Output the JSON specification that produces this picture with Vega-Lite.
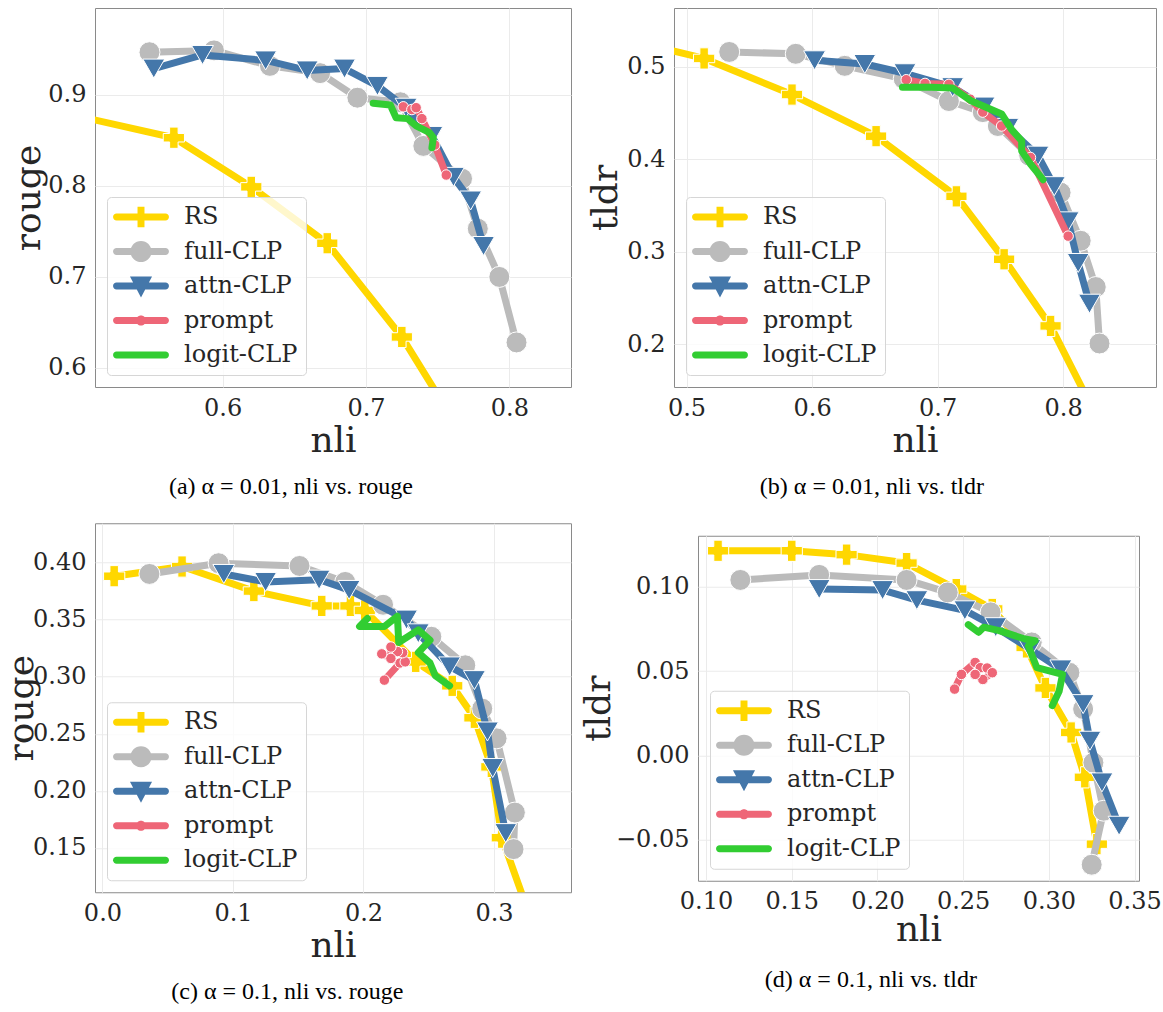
{
"$schema": "https://vega.github.io/schema/vega-lite/v6.json",
"padding": {"left": 3, "top": 7, "right": 0, "bottom": 0},
"background": "white",
"spacing": 22,
"resolve": {"scale": {"color": "independent"}, "legend": {"color": "independent"}},
"config": {
  "font": "DejaVu Serif",
  "view": {"stroke": "#8a8a8a", "strokeWidth": 1},
  "axis": {"domain": false, "ticks": false, "grid": true, "gridColor": "#ebebeb", "gridWidth": 1, "labelFont": "DejaVu Serif", "labelFontSize": 24, "labelColor": "#262626", "labelPadding": 9, "labelFlush": false, "labelOverlap": false, "titleFont": "DejaVu Serif", "titleFontSize": 36, "titleFontWeight": "normal", "titleColor": "#262626"},
  "axisY": {"titleBaseline": "alphabetic", "titlePadding": 6},
  "axisX": {"titlePadding": 3},
  "title": {"orient": "bottom", "font": "Liberation Serif", "fontSize": 24, "fontWeight": "normal", "color": "#000000", "anchor": "middle", "frame": "bounds", "offset": 17},
  "legend": {"orient": "bottom-left", "offset": 12, "title": null, "labelFont": "DejaVu Serif", "labelFontSize": 24, "labelColor": "#262626", "symbolSize": 576, "symbolOffset": 14, "rowPadding": 10.5, "labelOffset": 31, "padding": 8, "fillColor": "rgba(255,255,255,0.8)", "strokeColor": "#d6d6d6", "cornerRadius": 4}
},
"datasets": {
  "a": [
    {"s":"RS","i":0,"nli":0.47,"score":0.887},{"s":"RS","i":1,"nli":0.566,"score":0.853},{"s":"RS","i":2,"nli":0.620,"score":0.799},{"s":"RS","i":3,"nli":0.673,"score":0.737},{"s":"RS","i":4,"nli":0.725,"score":0.634},{"s":"RS","i":5,"nli":0.76,"score":0.545},
    {"s":"full-CLP","i":0,"nli":0.549,"score":0.947},{"s":"full-CLP","i":1,"nli":0.594,"score":0.949},{"s":"full-CLP","i":2,"nli":0.633,"score":0.932},{"s":"full-CLP","i":3,"nli":0.668,"score":0.924},{"s":"full-CLP","i":4,"nli":0.694,"score":0.897},{"s":"full-CLP","i":5,"nli":0.724,"score":0.892},{"s":"full-CLP","i":6,"nli":0.740,"score":0.844},{"s":"full-CLP","i":7,"nli":0.767,"score":0.808},{"s":"full-CLP","i":8,"nli":0.778,"score":0.753},{"s":"full-CLP","i":9,"nli":0.793,"score":0.700},{"s":"full-CLP","i":10,"nli":0.805,"score":0.628},
    {"s":"attn-CLP","i":0,"nli":0.552,"score":0.929},{"s":"attn-CLP","i":1,"nli":0.586,"score":0.944},{"s":"attn-CLP","i":2,"nli":0.630,"score":0.938},{"s":"attn-CLP","i":3,"nli":0.659,"score":0.927},{"s":"attn-CLP","i":4,"nli":0.685,"score":0.929},{"s":"attn-CLP","i":5,"nli":0.708,"score":0.910},{"s":"attn-CLP","i":6,"nli":0.728,"score":0.886},{"s":"attn-CLP","i":7,"nli":0.746,"score":0.855},{"s":"attn-CLP","i":8,"nli":0.761,"score":0.810},{"s":"attn-CLP","i":9,"nli":0.773,"score":0.784},{"s":"attn-CLP","i":10,"nli":0.782,"score":0.734},
    {"s":"prompt","i":0,"nli":0.726,"score":0.887},{"s":"prompt","i":1,"nli":0.732,"score":0.884},{"s":"prompt","i":2,"nli":0.735,"score":0.886},{"s":"prompt","i":3,"nli":0.739,"score":0.874},{"s":"prompt","i":4,"nli":0.748,"score":0.845},{"s":"prompt","i":5,"nli":0.756,"score":0.812},
    {"s":"logit-CLP","i":0,"nli":0.705,"score":0.891},{"s":"logit-CLP","i":1,"nli":0.717,"score":0.889},{"s":"logit-CLP","i":2,"nli":0.721,"score":0.875},{"s":"logit-CLP","i":3,"nli":0.729,"score":0.874},{"s":"logit-CLP","i":4,"nli":0.735,"score":0.866},{"s":"logit-CLP","i":5,"nli":0.744,"score":0.859},{"s":"logit-CLP","i":6,"nli":0.747,"score":0.853},{"s":"logit-CLP","i":7,"nli":0.746,"score":0.842}
  ],
  "b": [
    {"s":"RS","i":0,"nli":0.45,"score":0.530},{"s":"RS","i":1,"nli":0.514,"score":0.509},{"s":"RS","i":2,"nli":0.584,"score":0.470},{"s":"RS","i":3,"nli":0.651,"score":0.425},{"s":"RS","i":4,"nli":0.715,"score":0.360},{"s":"RS","i":5,"nli":0.753,"score":0.292},{"s":"RS","i":6,"nli":0.790,"score":0.220},{"s":"RS","i":7,"nli":0.83,"score":0.113},
    {"s":"full-CLP","i":0,"nli":0.534,"score":0.516},{"s":"full-CLP","i":1,"nli":0.587,"score":0.514},{"s":"full-CLP","i":2,"nli":0.626,"score":0.501},{"s":"full-CLP","i":3,"nli":0.673,"score":0.487},{"s":"full-CLP","i":4,"nli":0.709,"score":0.463},{"s":"full-CLP","i":5,"nli":0.736,"score":0.451},{"s":"full-CLP","i":6,"nli":0.748,"score":0.436},{"s":"full-CLP","i":7,"nli":0.773,"score":0.404},{"s":"full-CLP","i":8,"nli":0.798,"score":0.364},{"s":"full-CLP","i":9,"nli":0.814,"score":0.312},{"s":"full-CLP","i":10,"nli":0.826,"score":0.262},{"s":"full-CLP","i":11,"nli":0.829,"score":0.201},
    {"s":"attn-CLP","i":0,"nli":0.602,"score":0.507},{"s":"attn-CLP","i":1,"nli":0.642,"score":0.503},{"s":"attn-CLP","i":2,"nli":0.674,"score":0.493},{"s":"attn-CLP","i":3,"nli":0.712,"score":0.478},{"s":"attn-CLP","i":4,"nli":0.737,"score":0.457},{"s":"attn-CLP","i":5,"nli":0.756,"score":0.434},{"s":"attn-CLP","i":6,"nli":0.780,"score":0.404},{"s":"attn-CLP","i":7,"nli":0.793,"score":0.371},{"s":"attn-CLP","i":8,"nli":0.804,"score":0.333},{"s":"attn-CLP","i":9,"nli":0.812,"score":0.288},{"s":"attn-CLP","i":10,"nli":0.821,"score":0.244},
    {"s":"prompt","i":0,"nli":0.675,"score":0.486},{"s":"prompt","i":1,"nli":0.690,"score":0.482},{"s":"prompt","i":2,"nli":0.709,"score":0.481},{"s":"prompt","i":3,"nli":0.726,"score":0.465},{"s":"prompt","i":4,"nli":0.736,"score":0.451},{"s":"prompt","i":5,"nli":0.751,"score":0.436},{"s":"prompt","i":6,"nli":0.774,"score":0.402},{"s":"prompt","i":7,"nli":0.804,"score":0.317},
    {"s":"logit-CLP","i":0,"nli":0.672,"score":0.478},{"s":"logit-CLP","i":1,"nli":0.695,"score":0.478},{"s":"logit-CLP","i":2,"nli":0.712,"score":0.477},{"s":"logit-CLP","i":3,"nli":0.727,"score":0.463},{"s":"logit-CLP","i":4,"nli":0.751,"score":0.449},{"s":"logit-CLP","i":5,"nli":0.759,"score":0.432},{"s":"logit-CLP","i":6,"nli":0.767,"score":0.420},{"s":"logit-CLP","i":7,"nli":0.767,"score":0.409},{"s":"logit-CLP","i":8,"nli":0.774,"score":0.395},{"s":"logit-CLP","i":9,"nli":0.784,"score":0.378}
  ],
  "c": [
    {"s":"RS","i":0,"nli":0.009,"score":0.388},{"s":"RS","i":1,"nli":0.061,"score":0.3965},{"s":"RS","i":2,"nli":0.116,"score":0.375},{"s":"RS","i":3,"nli":0.168,"score":0.362},{"s":"RS","i":4,"nli":0.19,"score":0.362},{"s":"RS","i":5,"nli":0.201,"score":0.358},{"s":"RS","i":6,"nli":0.240,"score":0.313},{"s":"RS","i":7,"nli":0.268,"score":0.292},{"s":"RS","i":8,"nli":0.285,"score":0.264},{"s":"RS","i":9,"nli":0.298,"score":0.221},{"s":"RS","i":10,"nli":0.306,"score":0.159},{"s":"RS","i":11,"nli":0.33,"score":0.082},
    {"s":"full-CLP","i":0,"nli":0.036,"score":0.390},{"s":"full-CLP","i":1,"nli":0.089,"score":0.3994},{"s":"full-CLP","i":2,"nli":0.151,"score":0.397},{"s":"full-CLP","i":3,"nli":0.186,"score":0.383},{"s":"full-CLP","i":4,"nli":0.215,"score":0.363},{"s":"full-CLP","i":5,"nli":0.252,"score":0.335},{"s":"full-CLP","i":6,"nli":0.278,"score":0.310},{"s":"full-CLP","i":7,"nli":0.291,"score":0.272},{"s":"full-CLP","i":8,"nli":0.302,"score":0.246},{"s":"full-CLP","i":9,"nli":0.316,"score":0.181},{"s":"full-CLP","i":10,"nli":0.315,"score":0.149},
    {"s":"attn-CLP","i":0,"nli":0.093,"score":0.390},{"s":"attn-CLP","i":1,"nli":0.125,"score":0.383},{"s":"attn-CLP","i":2,"nli":0.166,"score":0.385},{"s":"attn-CLP","i":3,"nli":0.189,"score":0.376},{"s":"attn-CLP","i":4,"nli":0.233,"score":0.350},{"s":"attn-CLP","i":5,"nli":0.242,"score":0.338},{"s":"attn-CLP","i":6,"nli":0.266,"score":0.309},{"s":"attn-CLP","i":7,"nli":0.285,"score":0.297},{"s":"attn-CLP","i":8,"nli":0.295,"score":0.252},{"s":"attn-CLP","i":9,"nli":0.299,"score":0.220},{"s":"attn-CLP","i":10,"nli":0.309,"score":0.163},
    {"s":"prompt","i":0,"nli":0.216,"score":0.297},{"s":"prompt","i":1,"nli":0.228,"score":0.312},{"s":"prompt","i":2,"nli":0.232,"score":0.313},{"s":"prompt","i":3,"nli":0.230,"score":0.321},{"s":"prompt","i":4,"nli":0.226,"score":0.322},{"s":"prompt","i":5,"nli":0.221,"score":0.326},{"s":"prompt","i":6,"nli":0.221,"score":0.316},{"s":"prompt","i":7,"nli":0.214,"score":0.320},
    {"s":"logit-CLP","i":0,"nli":0.203,"score":0.351},{"s":"logit-CLP","i":1,"nli":0.197,"score":0.344},{"s":"logit-CLP","i":2,"nli":0.216,"score":0.344},{"s":"logit-CLP","i":3,"nli":0.226,"score":0.353},{"s":"logit-CLP","i":4,"nli":0.227,"score":0.330},{"s":"logit-CLP","i":5,"nli":0.242,"score":0.341},{"s":"logit-CLP","i":6,"nli":0.251,"score":0.332},{"s":"logit-CLP","i":7,"nli":0.242,"score":0.321},{"s":"logit-CLP","i":8,"nli":0.251,"score":0.312},{"s":"logit-CLP","i":9,"nli":0.255,"score":0.301},{"s":"logit-CLP","i":10,"nli":0.266,"score":0.292}
  ],
  "d": [
    {"s":"RS","i":0,"nli":0.107,"score":0.1213},{"s":"RS","i":1,"nli":0.150,"score":0.1213},{"s":"RS","i":2,"nli":0.182,"score":0.119},{"s":"RS","i":3,"nli":0.217,"score":0.114},{"s":"RS","i":4,"nli":0.246,"score":0.0986},{"s":"RS","i":5,"nli":0.267,"score":0.0868},{"s":"RS","i":6,"nli":0.287,"score":0.064},{"s":"RS","i":7,"nli":0.298,"score":0.040},{"s":"RS","i":8,"nli":0.313,"score":0.0136},{"s":"RS","i":9,"nli":0.321,"score":-0.013},{"s":"RS","i":10,"nli":0.328,"score":-0.0526},
    {"s":"full-CLP","i":0,"nli":0.120,"score":0.104},{"s":"full-CLP","i":1,"nli":0.166,"score":0.107},{"s":"full-CLP","i":2,"nli":0.217,"score":0.104},{"s":"full-CLP","i":3,"nli":0.241,"score":0.0966},{"s":"full-CLP","i":4,"nli":0.266,"score":0.0848},{"s":"full-CLP","i":5,"nli":0.290,"score":0.067},{"s":"full-CLP","i":6,"nli":0.312,"score":0.049},{"s":"full-CLP","i":7,"nli":0.320,"score":0.0275},{"s":"full-CLP","i":8,"nli":0.326,"score":-0.0043},{"s":"full-CLP","i":9,"nli":0.332,"score":-0.0328},{"s":"full-CLP","i":10,"nli":0.325,"score":-0.0648},
    {"s":"attn-CLP","i":0,"nli":0.166,"score":0.0986},{"s":"attn-CLP","i":1,"nli":0.203,"score":0.098},{"s":"attn-CLP","i":2,"nli":0.223,"score":0.092},{"s":"attn-CLP","i":3,"nli":0.251,"score":0.086},{"s":"attn-CLP","i":4,"nli":0.269,"score":0.076},{"s":"attn-CLP","i":5,"nli":0.289,"score":0.063},{"s":"attn-CLP","i":6,"nli":0.307,"score":0.051},{"s":"attn-CLP","i":7,"nli":0.320,"score":0.0304},{"s":"attn-CLP","i":8,"nli":0.324,"score":0.0087},{"s":"attn-CLP","i":9,"nli":0.331,"score":-0.016},{"s":"attn-CLP","i":10,"nli":0.341,"score":-0.0417},
    {"s":"prompt","i":0,"nli":0.245,"score":0.0393},{"s":"prompt","i":1,"nli":0.249,"score":0.048},{"s":"prompt","i":2,"nli":0.257,"score":0.0551},{"s":"prompt","i":3,"nli":0.260,"score":0.052},{"s":"prompt","i":4,"nli":0.264,"score":0.0518},{"s":"prompt","i":5,"nli":0.267,"score":0.049},{"s":"prompt","i":6,"nli":0.2615,"score":0.045},{"s":"prompt","i":7,"nli":0.257,"score":0.048},
    {"s":"logit-CLP","i":0,"nli":0.253,"score":0.0775},{"s":"logit-CLP","i":1,"nli":0.259,"score":0.073},{"s":"logit-CLP","i":2,"nli":0.262,"score":0.076},{"s":"logit-CLP","i":3,"nli":0.271,"score":0.074},{"s":"logit-CLP","i":4,"nli":0.286,"score":0.069},{"s":"logit-CLP","i":5,"nli":0.292,"score":0.068},{"s":"logit-CLP","i":6,"nli":0.288,"score":0.065},{"s":"logit-CLP","i":7,"nli":0.293,"score":0.052},{"s":"logit-CLP","i":8,"nli":0.308,"score":0.048},{"s":"logit-CLP","i":9,"nli":0.306,"score":0.038},{"s":"logit-CLP","i":10,"nli":0.302,"score":0.0295}
  ]
},
"vconcat": [
 {"hconcat": [
  {
   "width": 476, "height": 379,
   "title": {"text": "(a) α = 0.01, nli vs. rouge"},
   "data": {"name": "a"},
   "encoding": {
     "x": {"field": "nli", "type": "quantitative", "scale": {"domain": [0.511, 0.843], "nice": false, "zero": false}, "axis": {"values": [0.6, 0.7, 0.8], "format": ".1f", "title": "nli"}},
     "y": {"field": "score", "type": "quantitative", "scale": {"domain": [0.579, 0.9956], "nice": false, "zero": false}, "axis": {"values": [0.6, 0.7, 0.8, 0.9], "format": ".1f", "title": "rouge", "titlePadding": 8}},
     "color": {"field": "s", "type": "nominal", "scale": {"domain": ["RS", "full-CLP", "attn-CLP", "prompt", "logit-CLP"], "range": ["#FFD700", "#BBBBBB", "#4477AA", "#EE6677", "#32CD32"]},
       "legend": {"encode": {"symbols": {"update": {
         "shape": {"signal": "datum.value === 'RS' ? 'M-2.04,-0.29H2.04A0.29,0.29 0 0 1 2.04,0.29H-2.04A0.29,0.29 0 0 1 -2.04,-0.29ZM-0.29,-0.85H0.29V-0.29H0.85V0.29H0.29V0.85H-0.29V0.29H-0.85V-0.29H-0.29Z' : datum.value === 'full-CLP' ? 'M-2.04,-0.29H2.04A0.29,0.29 0 0 1 2.04,0.29H-2.04A0.29,0.29 0 0 1 -2.04,-0.29ZM-0.88,0A0.88,0.88 0 1 1 0.88,0A0.88,0.88 0 1 1 -0.88,0Z' : datum.value === 'attn-CLP' ? 'M-2.04,-0.29H2.04A0.29,0.29 0 0 1 2.04,0.29H-2.04A0.29,0.29 0 0 1 -2.04,-0.29ZM-0.92,-0.8L0.92,-0.8L0,0.95Z' : datum.value === 'prompt' ? 'M-2.04,-0.29H2.04A0.29,0.29 0 0 1 2.04,0.29H-2.04A0.29,0.29 0 0 1 -2.04,-0.29ZM-0.42,0A0.42,0.42 0 1 1 0.42,0A0.42,0.42 0 1 1 -0.42,0Z' : 'M-2.04,-0.29H2.04A0.29,0.29 0 0 1 2.04,0.29H-2.04A0.29,0.29 0 0 1 -2.04,-0.29Z'"},
         "fill": {"signal": "datum.value === 'RS' ? '#FFD700' : datum.value === 'full-CLP' ? '#BBBBBB' : datum.value === 'attn-CLP' ? '#4477AA' : datum.value === 'prompt' ? '#EE6677' : '#32CD32'"},
         "stroke": {"value": "transparent"}, "strokeWidth": {"value": 0}, "opacity": {"value": 1}, "fillOpacity": {"value": 1}, "size": {"value": 576}}}}}},
     "order": {"field": "i", "type": "quantitative"}
   },
   "layer": [
     {"transform": [{"filter": "datum.s === 'RS'"}], "mark": {"type": "line", "strokeWidth": 7, "strokeCap": "round", "strokeJoin": "round", "clip": true}},
     {"transform": [{"filter": "datum.s === 'RS'"}], "mark": {"type": "point", "shape": "cross", "size": 450, "filled": true, "opacity": 1, "stroke": "white", "strokeWidth": 1, "clip": true}},
     {"transform": [{"filter": "datum.s === 'full-CLP'"}], "mark": {"type": "line", "strokeWidth": 7, "strokeCap": "round", "strokeJoin": "round", "clip": true}},
     {"transform": [{"filter": "datum.s === 'full-CLP'"}], "mark": {"type": "point", "shape": "circle", "size": 440, "filled": true, "opacity": 1, "stroke": "white", "strokeWidth": 1, "clip": true}},
     {"transform": [{"filter": "datum.s === 'attn-CLP'"}], "mark": {"type": "line", "strokeWidth": 7, "strokeCap": "round", "strokeJoin": "round", "clip": true}},
     {"transform": [{"filter": "datum.s === 'attn-CLP'"}], "mark": {"type": "point", "shape": "triangle-down", "size": 480, "filled": true, "opacity": 1, "stroke": "white", "strokeWidth": 1, "clip": true}},
     {"transform": [{"filter": "datum.s === 'prompt'"}], "mark": {"type": "line", "strokeWidth": 7, "strokeCap": "round", "strokeJoin": "round", "clip": true}},
     {"transform": [{"filter": "datum.s === 'prompt'"}], "mark": {"type": "point", "shape": "circle", "size": 110, "filled": true, "opacity": 1, "stroke": "white", "strokeWidth": 1, "clip": true}},
     {"transform": [{"filter": "datum.s === 'logit-CLP'"}], "mark": {"type": "line", "strokeWidth": 7, "strokeCap": "round", "strokeJoin": "round", "clip": true}}
   ]
  },
  {
   "width": 482, "height": 379,
   "title": {"text": "(b) α = 0.01, nli vs. tldr"},
   "data": {"name": "b"},
   "encoding": {
     "x": {"field": "nli", "type": "quantitative", "scale": {"domain": [0.490, 0.874], "nice": false, "zero": false}, "axis": {"values": [0.5, 0.6, 0.7, 0.8], "format": ".1f", "title": "nli"}},
     "y": {"field": "score", "type": "quantitative", "scale": {"domain": [0.154, 0.5635], "nice": false, "zero": false}, "axis": {"values": [0.2, 0.3, 0.4, 0.5], "format": ".1f", "title": "tldr", "titlePadding": 10}},
     "color": {"field": "s", "type": "nominal", "scale": {"domain": ["RS", "full-CLP", "attn-CLP", "prompt", "logit-CLP"], "range": ["#FFD700", "#BBBBBB", "#4477AA", "#EE6677", "#32CD32"]},
       "legend": {"encode": {"symbols": {"update": {
         "shape": {"signal": "datum.value === 'RS' ? 'M-2.04,-0.29H2.04A0.29,0.29 0 0 1 2.04,0.29H-2.04A0.29,0.29 0 0 1 -2.04,-0.29ZM-0.29,-0.85H0.29V-0.29H0.85V0.29H0.29V0.85H-0.29V0.29H-0.85V-0.29H-0.29Z' : datum.value === 'full-CLP' ? 'M-2.04,-0.29H2.04A0.29,0.29 0 0 1 2.04,0.29H-2.04A0.29,0.29 0 0 1 -2.04,-0.29ZM-0.88,0A0.88,0.88 0 1 1 0.88,0A0.88,0.88 0 1 1 -0.88,0Z' : datum.value === 'attn-CLP' ? 'M-2.04,-0.29H2.04A0.29,0.29 0 0 1 2.04,0.29H-2.04A0.29,0.29 0 0 1 -2.04,-0.29ZM-0.92,-0.8L0.92,-0.8L0,0.95Z' : datum.value === 'prompt' ? 'M-2.04,-0.29H2.04A0.29,0.29 0 0 1 2.04,0.29H-2.04A0.29,0.29 0 0 1 -2.04,-0.29ZM-0.42,0A0.42,0.42 0 1 1 0.42,0A0.42,0.42 0 1 1 -0.42,0Z' : 'M-2.04,-0.29H2.04A0.29,0.29 0 0 1 2.04,0.29H-2.04A0.29,0.29 0 0 1 -2.04,-0.29Z'"},
         "fill": {"signal": "datum.value === 'RS' ? '#FFD700' : datum.value === 'full-CLP' ? '#BBBBBB' : datum.value === 'attn-CLP' ? '#4477AA' : datum.value === 'prompt' ? '#EE6677' : '#32CD32'"},
         "stroke": {"value": "transparent"}, "strokeWidth": {"value": 0}, "opacity": {"value": 1}, "fillOpacity": {"value": 1}, "size": {"value": 576}}}}}},
     "order": {"field": "i", "type": "quantitative"}
   },
   "layer": [
     {"transform": [{"filter": "datum.s === 'RS'"}], "mark": {"type": "line", "strokeWidth": 7, "strokeCap": "round", "strokeJoin": "round", "clip": true}},
     {"transform": [{"filter": "datum.s === 'RS'"}], "mark": {"type": "point", "shape": "cross", "size": 450, "filled": true, "opacity": 1, "stroke": "white", "strokeWidth": 1, "clip": true}},
     {"transform": [{"filter": "datum.s === 'full-CLP'"}], "mark": {"type": "line", "strokeWidth": 7, "strokeCap": "round", "strokeJoin": "round", "clip": true}},
     {"transform": [{"filter": "datum.s === 'full-CLP'"}], "mark": {"type": "point", "shape": "circle", "size": 440, "filled": true, "opacity": 1, "stroke": "white", "strokeWidth": 1, "clip": true}},
     {"transform": [{"filter": "datum.s === 'attn-CLP'"}], "mark": {"type": "line", "strokeWidth": 7, "strokeCap": "round", "strokeJoin": "round", "clip": true}},
     {"transform": [{"filter": "datum.s === 'attn-CLP'"}], "mark": {"type": "point", "shape": "triangle-down", "size": 480, "filled": true, "opacity": 1, "stroke": "white", "strokeWidth": 1, "clip": true}},
     {"transform": [{"filter": "datum.s === 'prompt'"}], "mark": {"type": "line", "strokeWidth": 7, "strokeCap": "round", "strokeJoin": "round", "clip": true}},
     {"transform": [{"filter": "datum.s === 'prompt'"}], "mark": {"type": "point", "shape": "circle", "size": 110, "filled": true, "opacity": 1, "stroke": "white", "strokeWidth": 1, "clip": true}},
     {"transform": [{"filter": "datum.s === 'logit-CLP'"}], "mark": {"type": "line", "strokeWidth": 7, "strokeCap": "round", "strokeJoin": "round", "clip": true}}
   ]
  }
 ], "spacing": 15, "resolve": {"scale": {"color": "independent"}, "legend": {"color": "independent"}}},
 {"hconcat": [
  {
   "width": 476, "height": 369,
   "title": {"text": "(c) α = 0.1, nli vs. rouge"},
   "data": {"name": "c"},
   "encoding": {
     "x": {"field": "nli", "type": "quantitative", "scale": {"domain": [-0.0057, 0.359], "nice": false, "zero": false}, "axis": {"values": [0.0, 0.1, 0.2, 0.3], "format": ".1f", "title": "nli"}},
     "y": {"field": "score", "type": "quantitative", "scale": {"domain": [0.1112, 0.4344], "nice": false, "zero": false}, "axis": {"values": [0.15, 0.2, 0.25, 0.3, 0.35, 0.4], "format": ".2f", "title": "rouge", "titlePadding": 0}},
     "color": {"field": "s", "type": "nominal", "scale": {"domain": ["RS", "full-CLP", "attn-CLP", "prompt", "logit-CLP"], "range": ["#FFD700", "#BBBBBB", "#4477AA", "#EE6677", "#32CD32"]},
       "legend": {"encode": {"symbols": {"update": {
         "shape": {"signal": "datum.value === 'RS' ? 'M-2.04,-0.29H2.04A0.29,0.29 0 0 1 2.04,0.29H-2.04A0.29,0.29 0 0 1 -2.04,-0.29ZM-0.29,-0.85H0.29V-0.29H0.85V0.29H0.29V0.85H-0.29V0.29H-0.85V-0.29H-0.29Z' : datum.value === 'full-CLP' ? 'M-2.04,-0.29H2.04A0.29,0.29 0 0 1 2.04,0.29H-2.04A0.29,0.29 0 0 1 -2.04,-0.29ZM-0.88,0A0.88,0.88 0 1 1 0.88,0A0.88,0.88 0 1 1 -0.88,0Z' : datum.value === 'attn-CLP' ? 'M-2.04,-0.29H2.04A0.29,0.29 0 0 1 2.04,0.29H-2.04A0.29,0.29 0 0 1 -2.04,-0.29ZM-0.92,-0.8L0.92,-0.8L0,0.95Z' : datum.value === 'prompt' ? 'M-2.04,-0.29H2.04A0.29,0.29 0 0 1 2.04,0.29H-2.04A0.29,0.29 0 0 1 -2.04,-0.29ZM-0.42,0A0.42,0.42 0 1 1 0.42,0A0.42,0.42 0 1 1 -0.42,0Z' : 'M-2.04,-0.29H2.04A0.29,0.29 0 0 1 2.04,0.29H-2.04A0.29,0.29 0 0 1 -2.04,-0.29Z'"},
         "fill": {"signal": "datum.value === 'RS' ? '#FFD700' : datum.value === 'full-CLP' ? '#BBBBBB' : datum.value === 'attn-CLP' ? '#4477AA' : datum.value === 'prompt' ? '#EE6677' : '#32CD32'"},
         "stroke": {"value": "transparent"}, "strokeWidth": {"value": 0}, "opacity": {"value": 1}, "fillOpacity": {"value": 1}, "size": {"value": 576}}}}}},
     "order": {"field": "i", "type": "quantitative"}
   },
   "layer": [
     {"transform": [{"filter": "datum.s === 'RS'"}], "mark": {"type": "line", "strokeWidth": 7, "strokeCap": "round", "strokeJoin": "round", "clip": true}},
     {"transform": [{"filter": "datum.s === 'RS'"}], "mark": {"type": "point", "shape": "cross", "size": 450, "filled": true, "opacity": 1, "stroke": "white", "strokeWidth": 1, "clip": true}},
     {"transform": [{"filter": "datum.s === 'full-CLP'"}], "mark": {"type": "line", "strokeWidth": 7, "strokeCap": "round", "strokeJoin": "round", "clip": true}},
     {"transform": [{"filter": "datum.s === 'full-CLP'"}], "mark": {"type": "point", "shape": "circle", "size": 440, "filled": true, "opacity": 1, "stroke": "white", "strokeWidth": 1, "clip": true}},
     {"transform": [{"filter": "datum.s === 'attn-CLP'"}], "mark": {"type": "line", "strokeWidth": 7, "strokeCap": "round", "strokeJoin": "round", "clip": true}},
     {"transform": [{"filter": "datum.s === 'attn-CLP'"}], "mark": {"type": "point", "shape": "triangle-down", "size": 480, "filled": true, "opacity": 1, "stroke": "white", "strokeWidth": 1, "clip": true}},
     {"transform": [{"filter": "datum.s === 'prompt'"}], "mark": {"type": "line", "strokeWidth": 7, "strokeCap": "round", "strokeJoin": "round", "clip": true}},
     {"transform": [{"filter": "datum.s === 'prompt'"}], "mark": {"type": "point", "shape": "circle", "size": 110, "filled": true, "opacity": 1, "stroke": "white", "strokeWidth": 1, "clip": true}},
     {"transform": [{"filter": "datum.s === 'logit-CLP'"}], "mark": {"type": "line", "strokeWidth": 7, "strokeCap": "round", "strokeJoin": "round", "clip": true}}
   ]
  },
  {
   "width": 441, "height": 345,
   "title": {"text": "(d) α = 0.1, nli vs. tldr", "offset": 20},
   "data": {"name": "d"},
   "encoding": {
     "x": {"field": "nli", "type": "quantitative", "scale": {"domain": [0.0953, 0.3526], "nice": false, "zero": false}, "axis": {"values": [0.1, 0.15, 0.2, 0.25, 0.3, 0.35], "format": ".2f", "title": "nli", "titlePadding": -1}},
     "y": {"field": "score", "type": "quantitative", "scale": {"domain": [-0.0743, 0.1302], "nice": false, "zero": false}, "axis": {"values": [-0.05, 0.0, 0.05, 0.1], "format": ".2f", "title": "tldr"}},
     "color": {"field": "s", "type": "nominal", "scale": {"domain": ["RS", "full-CLP", "attn-CLP", "prompt", "logit-CLP"], "range": ["#FFD700", "#BBBBBB", "#4477AA", "#EE6677", "#32CD32"]},
       "legend": {"encode": {"symbols": {"update": {
         "shape": {"signal": "datum.value === 'RS' ? 'M-2.04,-0.29H2.04A0.29,0.29 0 0 1 2.04,0.29H-2.04A0.29,0.29 0 0 1 -2.04,-0.29ZM-0.29,-0.85H0.29V-0.29H0.85V0.29H0.29V0.85H-0.29V0.29H-0.85V-0.29H-0.29Z' : datum.value === 'full-CLP' ? 'M-2.04,-0.29H2.04A0.29,0.29 0 0 1 2.04,0.29H-2.04A0.29,0.29 0 0 1 -2.04,-0.29ZM-0.88,0A0.88,0.88 0 1 1 0.88,0A0.88,0.88 0 1 1 -0.88,0Z' : datum.value === 'attn-CLP' ? 'M-2.04,-0.29H2.04A0.29,0.29 0 0 1 2.04,0.29H-2.04A0.29,0.29 0 0 1 -2.04,-0.29ZM-0.92,-0.8L0.92,-0.8L0,0.95Z' : datum.value === 'prompt' ? 'M-2.04,-0.29H2.04A0.29,0.29 0 0 1 2.04,0.29H-2.04A0.29,0.29 0 0 1 -2.04,-0.29ZM-0.42,0A0.42,0.42 0 1 1 0.42,0A0.42,0.42 0 1 1 -0.42,0Z' : 'M-2.04,-0.29H2.04A0.29,0.29 0 0 1 2.04,0.29H-2.04A0.29,0.29 0 0 1 -2.04,-0.29Z'"},
         "fill": {"signal": "datum.value === 'RS' ? '#FFD700' : datum.value === 'full-CLP' ? '#BBBBBB' : datum.value === 'attn-CLP' ? '#4477AA' : datum.value === 'prompt' ? '#EE6677' : '#32CD32'"},
         "stroke": {"value": "transparent"}, "strokeWidth": {"value": 0}, "opacity": {"value": 1}, "fillOpacity": {"value": 1}, "size": {"value": 576}}}}}},
     "order": {"field": "i", "type": "quantitative"}
   },
   "layer": [
     {"transform": [{"filter": "datum.s === 'RS'"}], "mark": {"type": "line", "strokeWidth": 7, "strokeCap": "round", "strokeJoin": "round", "clip": true}},
     {"transform": [{"filter": "datum.s === 'RS'"}], "mark": {"type": "point", "shape": "cross", "size": 450, "filled": true, "opacity": 1, "stroke": "white", "strokeWidth": 1, "clip": true}},
     {"transform": [{"filter": "datum.s === 'full-CLP'"}], "mark": {"type": "line", "strokeWidth": 7, "strokeCap": "round", "strokeJoin": "round", "clip": true}},
     {"transform": [{"filter": "datum.s === 'full-CLP'"}], "mark": {"type": "point", "shape": "circle", "size": 440, "filled": true, "opacity": 1, "stroke": "white", "strokeWidth": 1, "clip": true}},
     {"transform": [{"filter": "datum.s === 'attn-CLP'"}], "mark": {"type": "line", "strokeWidth": 7, "strokeCap": "round", "strokeJoin": "round", "clip": true}},
     {"transform": [{"filter": "datum.s === 'attn-CLP'"}], "mark": {"type": "point", "shape": "triangle-down", "size": 480, "filled": true, "opacity": 1, "stroke": "white", "strokeWidth": 1, "clip": true}},
     {"transform": [{"filter": "datum.s === 'prompt'"}], "mark": {"type": "line", "strokeWidth": 7, "strokeCap": "round", "strokeJoin": "round", "clip": true}},
     {"transform": [{"filter": "datum.s === 'prompt'"}], "mark": {"type": "point", "shape": "circle", "size": 110, "filled": true, "opacity": 1, "stroke": "white", "strokeWidth": 1, "clip": true}},
     {"transform": [{"filter": "datum.s === 'logit-CLP'"}], "mark": {"type": "line", "strokeWidth": 7, "strokeCap": "round", "strokeJoin": "round", "clip": true}}
   ]
  }
 ], "spacing": 7, "center": true, "resolve": {"scale": {"color": "independent"}, "legend": {"color": "independent"}}}
]
}
